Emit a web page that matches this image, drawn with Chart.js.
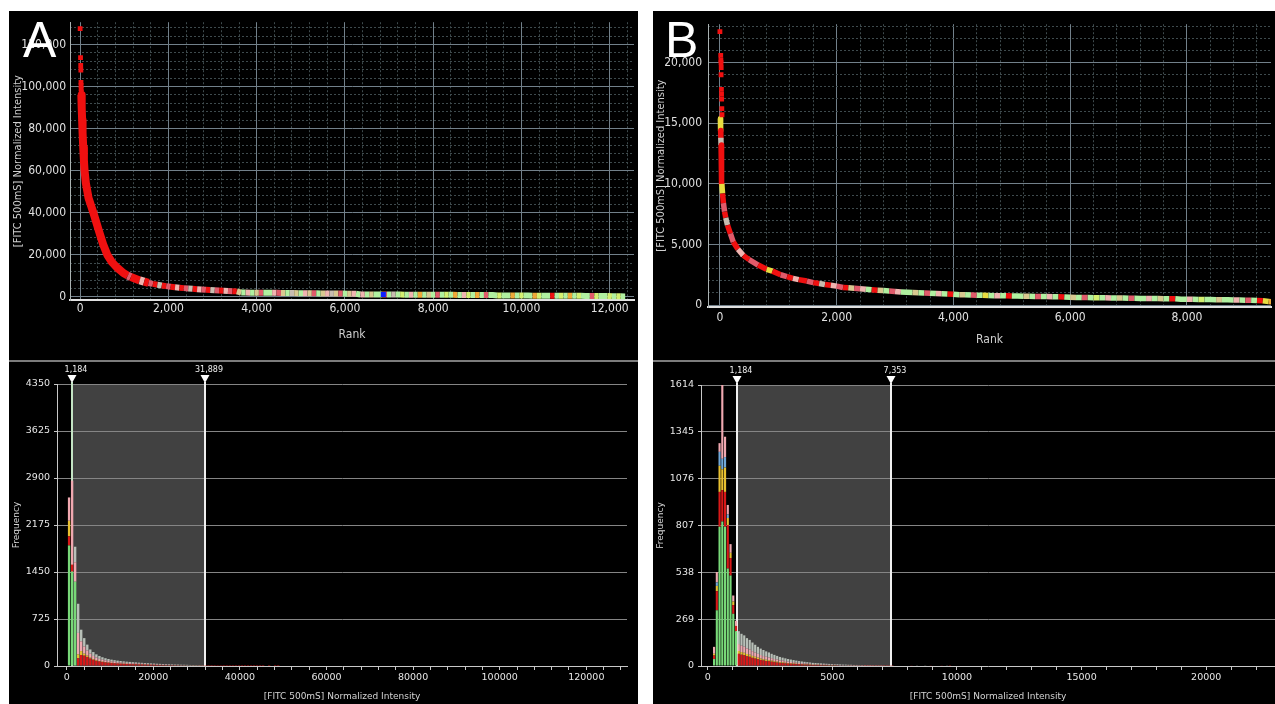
<!DOCTYPE html>
<html><head><meta charset="utf-8">
<script src="https://cdn.jsdelivr.net/npm/chart.js@4.4.1/dist/chart.umd.min.js"></script>
<style>
html,body{margin:0;padding:0;background:#fff;width:1275px;height:704px;overflow:hidden;position:relative}
.panel{position:absolute;background:#000}
canvas{position:absolute}
.sep{position:absolute;height:2px;background:#7c7c7c}
.lbl{position:absolute;color:#fff;font-family:'Liberation Sans',Arial,sans-serif;font-size:50px;line-height:50px}
</style></head><body>
<div class="panel" style="left:9px;top:11px;width:629px;height:693px"></div>
<div class="panel" style="left:653px;top:11px;width:622px;height:693px"></div>
<div class="sep" style="left:9px;top:360px;width:629px"></div>
<div class="sep" style="left:653px;top:360px;width:622px"></div>
<canvas id="cA1" width="629" height="349" style="left:9px;top:11px"></canvas>
<canvas id="cB1" width="622" height="349" style="left:653px;top:11px"></canvas>
<canvas id="cA2" width="629" height="342" style="left:9px;top:362px"></canvas>
<canvas id="cB2" width="622" height="342" style="left:653px;top:362px"></canvas>
<div class="lbl" style="left:23px;top:15px">A</div>
<div class="lbl" style="left:665px;top:15px">B</div>
<script>
// ---------------- DATA ----------------
// Tick labels
const A_RANK_TICKS = [0, 2000, 4000, 6000, 8000, 10000, 12000];
const A_INT_TICKS  = [0, 20000, 40000, 60000, 80000, 100000, 120000];
const B_RANK_TICKS = [0, 2000, 4000, 6000, 8000];
const B_INT_TICKS  = [0, 5000, 10000, 15000, 20000];
const A_FREQ_TICKS = [0, 725, 1450, 2175, 2900, 3625, 4350];
const B_FREQ_TICKS = [0, 269, 538, 807, 1076, 1345, 1614];
const A_HX_TICKS   = [0, 20000, 40000, 60000, 80000, 100000, 120000];
const B_HX_TICKS   = [0, 5000, 10000, 15000, 20000];

// Panel A rank plot
const A_SPARSE_RANK  = [0, 9, 13, 16, 19, 21, 23, 25];
const A_SPARSE_VALUE = [127500, 113800, 110000, 107800, 102000, 100500, 99000, 97500];
const A_FLAG_RANK  = [6870];
const A_FLAG_VALUE = [1100];
const A_CURVE_RANK = [27,35,45,55,70,85,100,130,190,300,430,520,615,720,830,980,1080,
 1150,1250,1350,1450,1550,1650,1750,1850,1950,2050,2150,2250,2350,2450,2550,2650,2750,2850,2950,3050,3150,3250,3350,3450,3550,
 3650,3750,3850,3950,4050,4150,4250,4350,4450,4550,4650,4750,4850,4950,5050,5150,5250,5350,5450,5550,5650,5750,5850,5950,6050,6150,6250,
 6350,6450,6550,6650,6750,6850,6950,7050,7150,7250,7350,7450,7550,7650,7750,7850,7950,8050,8150,8250,8350,8450,8550,8650,8750,8850,8950,9050,9150,9250,9350,
 9450,9550,9650,9750,9850,9950,10050,10150,10250,10350,10450,10550,10650,10750,10850,10950,11050,11150,11250,11350,11450,11550,11650,11750,11850,11950,12050,12150,12250,12350];
const A_CURVE_VALUE = [96000,90000,84000,78000,71000,65000,60000,54000,47000,40000,31000,25000,20000,16500,14000,11300,10100,
 9400,8600,7800,7200,6600,6150,5750,5400,5100,4800,4550,4350,4150,3950,3800,3650,3500,3350,3250,3100,3000,2900,2800,2700,2600,
 2050,2040,2000,1990,1985,1950,1940,1915,1890,1880,1810,1790,1770,1750,1735,1700,1690,1665,1640,1630,1600,1590,1560,1545,1520,1505,1480,
 1150,1145,1130,1120,1115,1100,1090,1085,1070,1060,1055,1040,1030,1025,1010,1000,995,980,970,965,950,940,935,920,910,905,890,880,875,860,850,
 650,645,630,620,615,600,590,585,570,560,555,540,530,525,510,500,495,480,470,465,450,440,435,420,410,400,250,245,230,220];
const A_CURVE_GROUP = 'RRRRRRRRRRRRRRRRR' + 'PRRLRPRWRPRLRPWRLPRWPRLPR' + 'TGLGTPGGLPTGWTGLTPGTLWTPGTL' +
 'GLGTGGPGWGVGLGOGTGPGVGOGLVGOGPG' + 'GVGGOGVGGOVGGRGVGOGVGGPVGGVGVG';

// Panel B rank plot
const B_SPARSE_RANK  = [0, 14, 17, 19, 22, 20, 26, 28, 30, 33, 36];
const B_SPARSE_VALUE = [22550, 20600, 20200, 20000, 19600, 19000, 17800, 17400, 17000, 16200, 15700];
const B_CURVE_RANK = [8,12,16,20,24,28,33,45,60,80,100,130,180,230,310,400,500,655,800,900,1040,1150,1250,1350,1490,1600,1700,
 1800,1900,2000,2110,2200,2300,2400,2500,2600,2700,2800,2900,3000,3100,3200,
 3300,3400,3500,3600,3700,3800,3900,4000,4100,4200,4300,4400,4500,4600,4700,4800,4900,5000,5100,5200,5300,5400,5500,5600,5700,5800,5900,6000,
 6100,6200,6300,6400,6500,6600,6700,6800,6900,7000,7100,7200,7300,7400,7500,7600,7700,7800,7900,8000,8100,8200,8300,8400,8500,8600,8700,8800,8900,9000,
 9100,9200,9300,9400,9500];
const B_CURVE_VALUE = [15400,14400,13800,13200,12400,11200,10000,9200,8400,7700,7200,6600,5900,5200,4600,4100,3750,3300,2950,2800,2500,2350,2200,2100,1980,1850,1780,
 1700,1630,1560,1450,1420,1380,1340,1300,1260,1230,1200,1160,1120,1080,1050,
 1030,1010,990,975,950,935,915,900,850,842,828,815,800,792,778,770,758,750,738,730,722,712,705,697,688,680,668,640,
 632,624,618,610,603,598,592,588,580,560,554,549,543,538,534,528,522,516,482,476,470,466,459,455,448,443,438,420,410,402,
 391,378,360,300,250];
const B_CURVE_GROUP = 'RYRWRRR' + 'YRPRWRPRLR' + 'PRYRPRLRPR' + 'WRLPRTPLGR' + 'TGPLG' +
 'GTGPGLGRGT' + 'GPGYGLGRGG' + 'TGPGLGRGTG' + 'PGVGLGTGPG' + 'GLGTGRGGLG' + 'VGGTGGLGPG' + 'RYO';

// Panel A histogram (bins of 700 starting at centre 550)
const A_BIN_START = 550, A_BIN_WIDTH = 700, A_BIN_COUNT = 70;
const A_HIST_GREEN  = [1860,1455,1300];
const A_HIST_RED    = [140,110,0,120,170,160,140,115,95,80,70,62,55,50,45,41,38,35,33,31,29,27,26,24,23,21,20,19,18,16,15,14,13,12,12,11,10,9,9,8,8,7,7,6,6,3,2,2,2,2,2,1,1,1,1,1,1,1,1,1,1,1,1,1,1,0,1,0,1,1];
const A_HIST_YELLOW = [240,0,0,60,60,30,20,15,10,10,5,5,5,4,4,3,3,3,3,3,2,2,2,2,2,2,2,1,1,1,1,1,1,1,1,1,1,1,1,1,1,1,1,1,1];
const A_HIST_PINK   = [360,1295,300,330,150,110,80,60,50,40,35,30,27,24,22,20,18,16,15,14,13,12,12,11,10,10,9,8,8,7,7,6,6,6,5,5,5,4,4,4,3,3,3,3,3,1,1,1];
const A_HIST_GREY   = [0,0,240,450,180,130,90,65,60,50,45,38,33,30,27,26,24,23,21,19,19,18,16,15,14,13,12,12,11,11,10,10,9,8,7,6,6,6,5,5,4,4,3,3,2,1,1,1,1];
const A_GATE = [1184, 31889];

// Panel B histogram (bins of 110 starting at centre 255)
const B_BIN_START = 255, B_BIN_WIDTH = 110, B_BIN_COUNT = 90;
const B_HIST_GREEN  = [40,320,800,830,800,560,520,300,200];
const B_HIST_RED    = [20,110,200,180,200,250,100,50,30,70,65,62,56,53,47,43,39,35,32,29,27,25,22,20,18,17,15,14,13,12,11,10,9,8,8,7,6,6,6,5,5,5,4,4,4,4,3,3,3,2,2,2,2,2,2,1,1,1,1,1,1,1,1,1,1,1,0,0,0,0,0,0,2,0,0,3,0,0,0,2,0,0,0,2,0,0,1];
const B_HIST_YELLOW = [10,30,150,120,140,40,30,20,0,16,15,14,13,12,11,10,9,8,7,7,6,6,5,5,4,4,4,3,3,3,2,2,2,2,2,2,1,1,1,1,1,1,1,1,1];
const B_HIST_BLUE   = [0,20,80,60,60,20,0,0,0];
const B_HIST_PINK   = [40,60,50,424,117,55,50,35,30,40,37,35,32,30,27,24,22,20,18,17,16,14,13,12,10,10,9,8,7,7,6,6,5,5,4,4,4,3,3,3,3,2,2,2,2,2,2,2,1,1,1,1,1,1,1,1,1,1];
const B_HIST_GREY   = [0,0,0,0,0,0,0,0,0,74,68,65,59,55,50,45,40,37,35,31,29,25,24,21,20,17,16,15,14,12,12,10,10,9,8,7,7,7,6,6,5,5,5,4,3,4,4,3,4,4,4,3,3,2,2,2,2,2,2,2,2,2,1,1,1,1,0,0,0,0,0,0,0,0,2,0,0,2,0,0,0,3,0,0,0,2];
const B_GATE = [1184, 7353];

// ---------------- STYLE ----------------
const PAL = { R:'#f01010', P:'#e05a6a', L:'#f0b4b0', W:'#c8bcb0', T:'#d8c890', G:'#b0f0a0', V:'#d4f070', Y:'#e8dc40', O:'#f0a838', K:'#1020ff' };
const HCOL = { green:'#78d878', red:'#d81818', yellow:'#e8c030', blue:'#70a8d8', pink:'#f0a8b0', grey:'#b8c0b8' };
const NARROW = "'Liberation Sans Narrow','DejaVu Sans Condensed',sans-serif";
const MAJOR = '#72808a', MINOR = '#3e4a4d';
Chart.defaults.font.family = "'DejaVu Sans', sans-serif";
Chart.defaults.color = '#e0e0e0';

const fmt = v => Number(v).toLocaleString('en-US');
const pts = (xs, ys) => xs.map((x, i) => ({ x, y: ys[i] }));
const setTicks = list => s => { s.ticks = list.map(v => ({ value: v })); };
const stepTicks = (lo, hi, step) => s => {
  const t = [];
  for (let k = Math.ceil(lo / step); k * step <= hi; k++) t.push({ value: k * step });
  s.ticks = t;
};

function rankChart(id, o) {
  const minorColor = list => c => (c.tick && list.includes(c.tick.value)) ? 'rgba(0,0,0,0)' : MINOR;
  return new Chart(document.getElementById(id), {
    type: 'line',
    data: { datasets: [
      { data: pts(o.flagR, o.flagV), showLine:false, pointStyle:'rect', pointRadius:3.6, pointBorderWidth:0, pointBackgroundColor:PAL.K },
      { data: pts(o.sparseR, o.sparseV), showLine:false, pointStyle:'rect', pointRadius:3.4, pointBorderWidth:0, pointBackgroundColor:PAL.R },
      { data: pts(o.curveR, o.curveV), borderColor:PAL.R, borderWidth:o.lw, pointRadius:0, tension:0,
        borderCapStyle:'butt', borderJoinStyle:'round',
        segment: {
          borderColor: c => PAL[o.groups[c.p1DataIndex]],
          borderWidth: c => (o.curveR[c.p1DataIndex] > o.thickUntil ? o.lwTail : o.lw)
        } }
    ]},
    options: {
      responsive:false, animation:false, events:[],
      layout:{ padding:{ left:0, right:o.padRight, top:o.padTop, bottom:0 } },
      plugins:{ legend:{display:false}, tooltip:{enabled:false} },
      scales:{
        x:{ type:'linear', position:'bottom', min:o.xMin, max:o.xMax,
            afterFit: s => { s.height = o.xH; },
            afterBuildTicks: setTicks(o.xTicks),
            grid:{ color:MAJOR, lineWidth:1, drawTicks:false },
            border:{ color:'#e0e0e0', width:2 },
            ticks:{ autoSkip:false, maxRotation:0, padding:o.xTickPad, color:'#e0e0e0', font:{family:NARROW, size:12}, callback: fmt },
            title:{ display:true, text:'Rank', color:'#d0d0d0', font:{family:NARROW, size:12}, padding:{top:0, bottom:o.xTitlePad} } },
        xm:{ type:'linear', position:'bottom', min:o.xMin, max:o.xMax,
            afterFit: s => { s.height = 0; },
            afterBuildTicks: stepTicks(o.xMin, o.xMax, o.xMinor),
            grid:{ color:minorColor(o.xTicks), lineWidth:1, drawTicks:false, z:-1 },
            border:{ display:false, dash:[2,2] },
            ticks:{ display:false } },
        y:{ type:'linear', position:'left', min:o.yMin, max:o.yMax,
            afterFit: s => { s.width = o.yW; },
            afterBuildTicks: setTicks(o.yTicks),
            grid:{ color:MAJOR, lineWidth:1, drawTicks:false },
            border:{ color:'#aab2b2', width:1 },
            ticks:{ padding:o.yTickPad, color:'#e0e0e0', font:{family:NARROW, size:12}, callback: fmt },
            title:{ display:true, text:'[FITC 500mS] Normalized Intensity', color:'#d0d0d0', font:{family:NARROW, size:11}, padding:{top:o.yTitlePad, bottom:0} } },
        ym:{ type:'linear', position:'left', min:o.yMin, max:o.yMax,
            afterFit: s => { s.width = 0; },
            afterBuildTicks: stepTicks(o.yMin, o.yMax, o.yMinor),
            grid:{ color:minorColor(o.yTicks), lineWidth:1, drawTicks:false, z:-1 },
            border:{ display:false, dash:[2,2] },
            ticks:{ display:false } }
      }
    }
  });
}

const gatePlugin = {
  id:'gate',
  beforeDraw(chart, args, o) {
    const { ctx, chartArea:a, scales:{x} } = chart;
    const x1 = x.getPixelForValue(o.lo), x2 = x.getPixelForValue(o.hi);
    ctx.save(); ctx.fillStyle = '#414141'; ctx.fillRect(x1, a.top, x2 - x1, a.bottom - a.top); ctx.restore();
  },
  beforeDatasetsDraw(chart, args, o) {
    const { ctx, chartArea:a, scales:{x} } = chart;
    [[o.lo, o.loColor], [o.hi, '#f0f0f0']].forEach(([v, col]) => {
      const px = Math.round(x.getPixelForValue(v));
      ctx.save();
      ctx.strokeStyle = col; ctx.lineWidth = 2;
      ctx.beginPath(); ctx.moveTo(px, a.top - 2); ctx.lineTo(px, a.bottom); ctx.stroke();
      ctx.fillStyle = '#ffffff';
      ctx.beginPath(); ctx.moveTo(px - 4.5, a.top - 9); ctx.lineTo(px + 4.5, a.top - 9); ctx.lineTo(px, a.top - 1); ctx.closePath(); ctx.fill();
      ctx.font = "8px 'DejaVu Sans', sans-serif"; ctx.textAlign = 'center'; ctx.textBaseline = 'middle';
      ctx.fillStyle = '#f0f0f0';
      ctx.fillText(fmt(v), px + 4, a.top - 14);
      ctx.restore();
    });
  }
};

function histChart(id, o) {
  const labels = Array.from({length:o.count}, (_, i) => o.start + i * o.width);
  const ds = (data, col) => ({ data, backgroundColor:col, borderWidth:0, stack:'h', barPercentage:0.78, categoryPercentage:1 });
  return new Chart(document.getElementById(id), {
    type:'bar',
    data:{ labels, datasets: o.series.map(s => ds(s[0], s[1])) },
    plugins:[gatePlugin],
    options:{
      responsive:false, animation:false, events:[],
      layout:{ padding:{ left:0, right:o.padRight, top:o.padTop, bottom:0 } },
      plugins:{ legend:{display:false}, tooltip:{enabled:false}, gate:{ lo:o.gate[0], hi:o.gate[1], loColor:o.loColor } },
      scales:{
        x:{ type:'linear', offset:false, stacked:true, min:o.xMin, max:o.xMax,
            afterFit: s => { s.height = 38; },
            afterBuildTicks: stepTicks(0, o.xMax, o.xStep),
            grid:{ offset:false, drawOnChartArea:false, drawTicks:true, tickLength:4, tickColor:'#c8c8c8', tickWidth:1 },
            border:{ color:'#c8c8c8', width:1 },
            ticks:{ autoSkip:false, maxRotation:0, padding:2,
                    color:'#e6e6e6', font:{size:9.5}, callback: v => (o.xLabels.includes(v) ? String(v) : '') },
            title:{ display:true, text:'[FITC 500mS] Normalized Intensity', color:'#d4d4d4', font:{size:9}, padding:{top:0, bottom:1.5} } },
        y:{ stacked:true, min:0, max:o.yMax,
            afterFit: s => { s.width = 48; },
            afterBuildTicks: setTicks(o.yTicks),
            grid:{ color: c => (c.tick && c.tick.value === 0) ? 'rgba(0,0,0,0)' : '#858585', lineWidth:1, drawTicks:true, tickLength:3, tickColor:'#c8c8c8' },
            border:{ color:'#c8c8c8', width:1 },
            ticks:{ padding:4, color:'#e6e6e6', font:{size:9.5}, callback: v => String(v) },
            title:{ display:true, text:'Frequency', color:'#d4d4d4', font:{size:9}, padding:{top:2.6, bottom:0} } }
      }
    }
  });
}

rankChart('cA1', {
  flagR:A_FLAG_RANK, flagV:A_FLAG_VALUE, sparseR:A_SPARSE_RANK, sparseV:A_SPARSE_VALUE,
  curveR:A_CURVE_RANK, curveV:A_CURVE_VALUE, groups:A_CURVE_GROUP, lw:8, lwTail:6, thickUntil:1600,
  xMin:-230, xMax:12550, xTicks:A_RANK_TICKS, xMinor:400, yMin:-1500, yMax:130600, yTicks:A_INT_TICKS, yMinor:4000,
  padRight:2, padTop:3, xH:60, yW:61, xTickPad:2, xTitlePad:18, yTickPad:4, yTitlePad:2.5
});
rankChart('cB1', {
  flagR:[], flagV:[], sparseR:B_SPARSE_RANK, sparseV:B_SPARSE_VALUE,
  curveR:B_CURVE_RANK, curveV:B_CURVE_VALUE, groups:B_CURVE_GROUP, lw:5.5, lwTail:5.5, thickUntil:0,
  xMin:-204, xMax:9440, xTicks:B_RANK_TICKS, xMinor:400, yMin:-160, yMax:23170, yTicks:B_INT_TICKS, yMinor:1000,
  padRight:0, padTop:2, xH:53, yW:55, xTickPad:4, xTitlePad:13, yTickPad:6, yTitlePad:1.5
});
histChart('cA2', {
  start:A_BIN_START, width:A_BIN_WIDTH, count:A_BIN_COUNT,
  series:[[A_HIST_GREEN,HCOL.green],[A_HIST_RED,HCOL.red],[A_HIST_YELLOW,HCOL.yellow],[A_HIST_PINK,HCOL.pink],[A_HIST_GREY,HCOL.grey]],
  gate:A_GATE, loColor:'#c4e4c4',
  xMin:-2240, xMax:129400, xStep:4000, xLabels:A_HX_TICKS, yMax:4350, yTicks:A_FREQ_TICKS, padRight:11, padTop:22
});
histChart('cB2', {
  start:B_BIN_START, width:B_BIN_WIDTH, count:B_BIN_COUNT,
  series:[[B_HIST_GREEN,HCOL.green],[B_HIST_RED,HCOL.red],[B_HIST_YELLOW,HCOL.yellow],[B_HIST_BLUE,HCOL.blue],[B_HIST_PINK,HCOL.pink],[B_HIST_GREY,HCOL.grey]],
  gate:B_GATE, loColor:'#f0f0f0',
  xMin:-270, xMax:22760, xStep:1000, xLabels:B_HX_TICKS, yMax:1614, yTicks:B_FREQ_TICKS, padRight:0, padTop:23
});
</script>
</body></html>
